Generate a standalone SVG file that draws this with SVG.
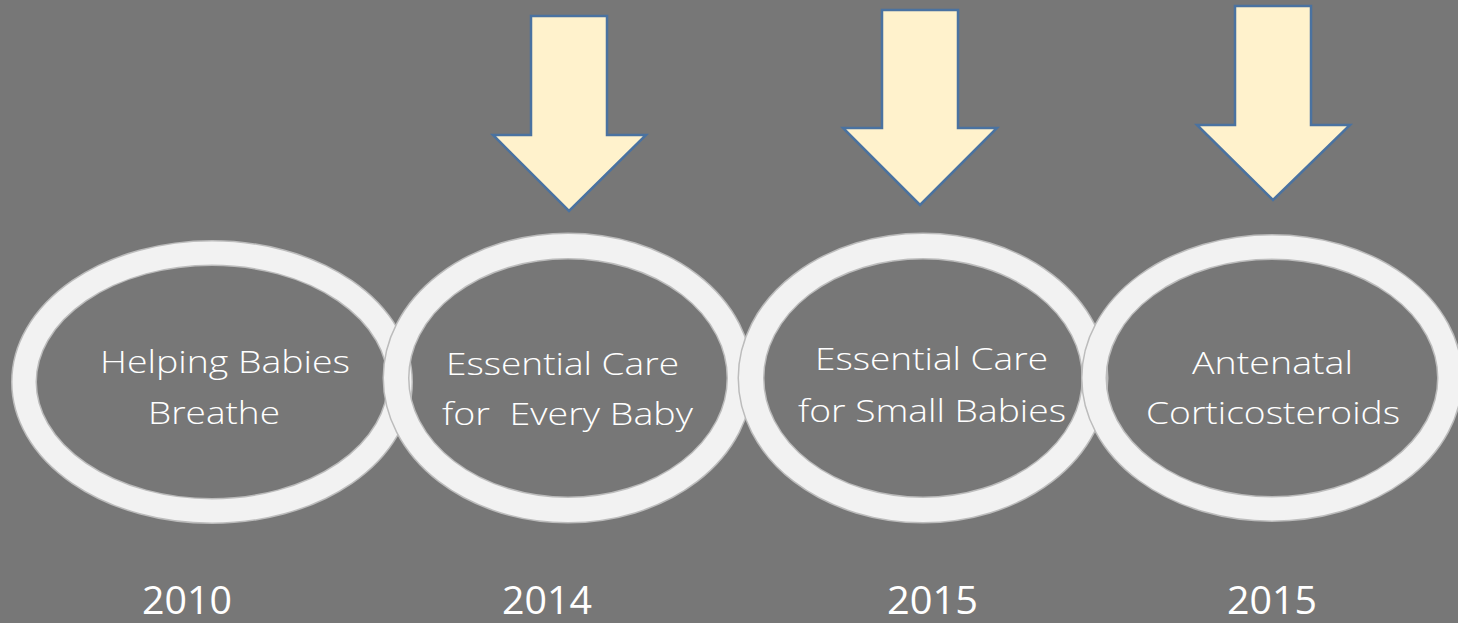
<svg xmlns="http://www.w3.org/2000/svg" width="1458" height="623" viewBox="0 0 1458 623">
<style>
.edge{fill:none;stroke:#bcbcbc}
.band{fill:none;stroke:#f2f2f2}
.lbl{font-family:"Open Sans","Liberation Sans",sans-serif;font-weight:300;font-size:32px;fill:#ffffff;text-anchor:middle}
.yr{font-family:"Open Sans","Liberation Sans",sans-serif;font-weight:400;font-size:38px;fill:#ffffff;text-anchor:middle}
.arr{fill:#fff2cc;stroke:#4a72a0;stroke-width:2.5;stroke-linejoin:miter}
</style>
<rect width="1458" height="623" fill="#777777"/>
<g id="ring1">
<ellipse class="edge" cx="212" cy="382" rx="188" ry="129" stroke-width="26"/>
<ellipse class="band" cx="212" cy="382" rx="188" ry="129" stroke-width="23"/>
<text class="lbl" x="225" y="373" textLength="250" lengthAdjust="spacingAndGlyphs">Helping Babies</text>
<text class="lbl" x="214" y="424" textLength="132" lengthAdjust="spacingAndGlyphs">Breathe</text>
</g>
<g id="ring2">
<ellipse class="edge" cx="568" cy="378" rx="172" ry="132" stroke-width="27"/>
<ellipse class="band" cx="568" cy="378" rx="172" ry="132" stroke-width="24"/>
<text class="lbl" x="562.5" y="375" textLength="233" lengthAdjust="spacingAndGlyphs">Essential Care</text>
<text class="lbl" x="567.5" y="425" textLength="251" lengthAdjust="spacingAndGlyphs" xml:space="preserve">for  Every Baby</text>
</g>
<g id="ring3">
<ellipse class="edge" cx="923" cy="378" rx="172" ry="132" stroke-width="27"/>
<ellipse class="band" cx="923" cy="378" rx="172" ry="132" stroke-width="24"/>
<text class="lbl" x="931.5" y="370" textLength="233" lengthAdjust="spacingAndGlyphs">Essential Care</text>
<text class="lbl" x="932" y="422" textLength="268" lengthAdjust="spacingAndGlyphs">for Small Babies</text>
</g>
<g id="ring4">
<ellipse class="edge" cx="1272" cy="378" rx="178" ry="131" stroke-width="26"/>
<ellipse class="band" cx="1272" cy="378" rx="178" ry="131" stroke-width="23"/>
<text class="lbl" x="1272.5" y="374" textLength="161" lengthAdjust="spacingAndGlyphs">Antenatal</text>
<text class="lbl" x="1273" y="424" textLength="254" lengthAdjust="spacingAndGlyphs">Corticosteroids</text>
</g>
<g id="arrow1"><polygon class="arr" points="531,16 607,16 607,135 646,135 569,211 493,135 531,135"/></g>
<g id="arrow2"><polygon class="arr" points="882,10 958,10 958,128 997,128 920,205 843,128 882,128"/></g>
<g id="arrow3"><polygon class="arr" points="1235,6 1311,6 1311,125 1350,125 1273,200 1197,125 1235,125"/></g>
<g id="years">
<text class="yr" x="187" y="614" textLength="90" lengthAdjust="spacingAndGlyphs">2010</text>
<text class="yr" x="547" y="614" textLength="90" lengthAdjust="spacingAndGlyphs">2014</text>
<text class="yr" x="932.5" y="614" textLength="91" lengthAdjust="spacingAndGlyphs">2015</text>
<text class="yr" x="1272" y="614" textLength="90" lengthAdjust="spacingAndGlyphs">2015</text>
</g>
<g id="connectors"></g>
</svg>
